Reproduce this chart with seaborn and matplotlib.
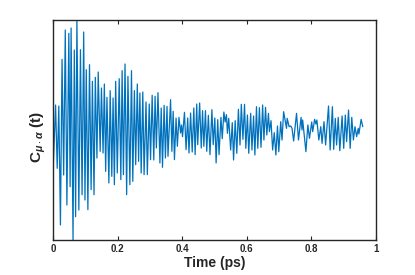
import matplotlib
matplotlib.use("Agg")
import matplotlib.pyplot as plt
import seaborn as sns
import pandas as pd

time_ps = [0.000, 0.008, 0.013, 0.018, 0.023, 0.028, 0.033, 0.038, 0.043, 0.049,
           0.053, 0.056, 0.062, 0.066, 0.070, 0.074, 0.080, 0.085, 0.090, 0.095,
           0.099, 0.103, 0.108, 0.113, 0.118, 0.122, 0.127, 0.131, 0.136, 0.140,
           0.146, 0.150, 0.155, 0.159, 0.163, 0.167, 0.173, 0.177, 0.182, 0.186,
           0.190, 0.194, 0.199, 0.205, 0.210, 0.214, 0.218, 0.223, 0.228, 0.232,
           0.238, 0.243, 0.247, 0.252, 0.256, 0.261, 0.265, 0.269, 0.273, 0.278,
           0.282, 0.288, 0.292, 0.298, 0.302, 0.307, 0.312, 0.316, 0.320, 0.325,
           0.331, 0.335, 0.339, 0.344, 0.348, 0.353, 0.356, 0.364, 0.368, 0.372,
           0.376, 0.381, 0.385, 0.390, 0.395, 0.398, 0.401, 0.407, 0.412, 0.417,
           0.421, 0.426, 0.431, 0.436, 0.440, 0.445, 0.448, 0.454, 0.459, 0.463,
           0.467, 0.472, 0.476, 0.481, 0.486, 0.492, 0.496, 0.501, 0.505, 0.510,
           0.514, 0.520, 0.524, 0.529, 0.533, 0.537, 0.540, 0.544, 0.550, 0.555,
           0.559, 0.564, 0.569, 0.574, 0.579, 0.583, 0.588, 0.593, 0.597, 0.602,
           0.606, 0.612, 0.616, 0.621, 0.625, 0.630, 0.634, 0.639, 0.644, 0.649,
           0.653, 0.658, 0.662, 0.667, 0.670, 0.675, 0.680, 0.685, 0.690, 0.695,
           0.699, 0.705, 0.709, 0.714, 0.723, 0.725, 0.731, 0.736, 0.740, 0.745,
           0.754, 0.760, 0.768, 0.771, 0.773, 0.783, 0.789, 0.794, 0.801, 0.804,
           0.810, 0.814, 0.817, 0.823, 0.829, 0.833, 0.839, 0.844, 0.853, 0.858,
           0.865, 0.869, 0.874, 0.878, 0.883, 0.888, 0.895, 0.900, 0.905, 0.909,
           0.915, 0.920, 0.925, 0.930, 0.935, 0.940, 0.945, 0.947, 0.954, 0.959]

correlation = [-140, 65, -125, 62, -295, 202, -145, 290, -235, 280,
               -180, 296, -340, 230, -270, 320, -250, 231, -204, 284,
               -220, 171, -249, 186, -189, 136, -204, 148, -94, 164,
               -74, 116, -79, 128, -134, 88, -169, 108, -149, 86,
               -174, 136, -139, 144, -159, 168, -144, 188, -204, 151,
               -174, 168, -164, 108, -114, 128, -104, 101, -139, 104,
               -144, 74, -144, 68, -99, 94, -100, 91, -64, 102,
               -109, 56, -122, 64, -94, 61, -89, 81, -74, 46,
               -99, 26, -59, 28, -19, 5, -30, 43, -69, 26,
               -79, 41, -76, 56, -84, 68, -54, 71, -64, 48,
               -59, 48, -74, 34, -84, 51, -54, 26, -109, 21,
               -84, 28, -36, 44, 14, 36, -20, 25, -70, 12,
               -100, 18, -80, 52, -55, 67, -38, 67, -65, 35,
               -80, 40, -70, 32, -85, 60, -65, 57, -62, 65,
               -40, 58, -25, 40, -15, 18, -70, -18, -85, 2,
               -75, 15, -40, 45, -5, 25, 0, 2, -5, -43,
               40, -40, 28, -10, 20, -75, 5, -35, 14, -15,
               22, 8, 20, -40, 0, -50, 15, -55, 62, -70,
               60, -68, 25, -55, 28, -72, 32, -65, 35, -45,
               50, -65, 28, -40, 0, -30, -5, -22, 22, 0]

x_ticks = [0, 0.2, 0.4, 0.6, 0.8, 1]
x_tick_labels = ["0", "0.2", "0.4", "0.6", "0.8", "1"]

df = pd.DataFrame({"t": time_ps, "c": correlation})

sns.set_style("white")
plt.rcParams["font.family"] = ["Liberation Sans", "DejaVu Sans"]
plt.rcParams["mathtext.fontset"] = "custom"
plt.rcParams["mathtext.it"] = "Liberation Sans:italic:bold"
plt.rcParams["mathtext.rm"] = "Liberation Sans:bold"

fig = plt.figure(figsize=(4.15, 2.75), dpi=100)
ax = fig.add_axes([53 / 415, 1 - 240 / 275, 323 / 415, 220 / 275])

sns.lineplot(data=df, x="t", y="c", ax=ax, color="#0072BD", linewidth=0.9,
             estimator=None, sort=False)

ax.set_xlim(0, 1)
ax.set_ylim(-340, 320)
ax.set_xticks(x_ticks)
ax.set_xticklabels(x_tick_labels, fontsize=7, fontweight="bold", color="#262626")
ax.set_yticks([])
ax.tick_params(axis="x", direction="in", length=3, width=0.8, top=True,
               bottom=True, pad=3, colors="#262626")
for s in ax.spines.values():
    s.set_visible(True)
    s.set_color("#262626")
    s.set_linewidth(1.0)

ax.set_xlabel("Time (ps)", fontsize=10, fontweight="bold", color="#262626", labelpad=1)
ax.set_ylabel(r"C$_{\mu\cdot\alpha}$ (t)", fontsize=11, fontweight="bold",
              color="#262626")
ax.yaxis.set_label_coords(-0.015, 0.47)

fig.savefig("out.png", dpi=100)
